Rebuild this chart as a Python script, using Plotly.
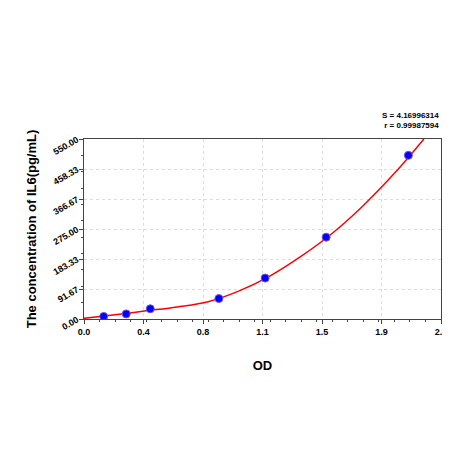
import plotly.graph_objects as go

# standards (OD vs concentration)
od = [0.127, 0.272, 0.427, 0.869, 1.167, 1.56, 2.09]
conc = [7.8, 15.6, 31.25, 62.5, 125, 250, 500]

# fitted curve
fit_od = [0.0, 0.2, 0.4, 0.6, 0.8, 1.0, 1.2, 1.4, 1.6, 1.8, 2.0, 2.19]
fit_conc = [2, 13, 25, 37, 53, 86, 132, 192, 262, 347, 445, 550]

x_ticks = [0, 2.3/6, 2*2.3/6, 3*2.3/6, 4*2.3/6, 5*2.3/6, 2.3]
x_labels = ["<b>0.0</b>", "<b>0.4</b>", "<b>0.8</b>", "<b>1.1</b>", "<b>1.5</b>", "<b>1.9</b>", "<b>2.3</b>"]
y_ticks = [0, 550/6, 2*550/6, 3*550/6, 4*550/6, 5*550/6, 550]
y_labels = ["<b>0.00</b>", "<b>91.67</b>", "<b>183.33</b>", "<b>275.00</b>",
            "<b>366.67</b>", "<b>458.33</b>", "<b>550.00</b>"]

fig = go.Figure()
fig.add_trace(go.Scatter(x=fit_od, y=fit_conc, mode='lines', line=dict(color='red', width=1.5, shape='spline')))
fig.add_trace(go.Scatter(x=od, y=conc, mode='markers',
                         marker=dict(color='blue', size=8, line=dict(color='#7755cc', width=1))))

axis = dict(showline=True, linecolor='#444', linewidth=1, mirror=True, automargin=False,
            gridcolor='#dddddd', griddash='dot', zeroline=False,
            ticks='outside', ticklen=4, tickcolor='#444',
            minor=dict(ticks='outside', ticklen=2, nticks=5, tickcolor='#444'),
            tickfont=dict(size=9, family='Arial', color='black'))

fig.update_xaxes(axis, range=[0, 2.3], tickvals=x_ticks, ticktext=x_labels,
                 title=dict(text='<b>OD</b>', standoff=25, font=dict(size=13, family='Arial', color='black')))
fig.update_yaxes(axis, range=[0, 550], tickvals=y_ticks, ticktext=y_labels, tickangle=-30,
                 title=dict(text='<b>The concentration of IL6(pg/mL)</b>', standoff=12,
                            font=dict(size=13, family='Arial', color='black')))

fig.add_annotation(text='<b>S = 4.16996314<br>r = 0.99987594</b>', xref='paper', yref='paper',
                   x=1, y=1.04, xanchor='right', yanchor='bottom', showarrow=False, align='right',
                   font=dict(size=8, family='Arial', color='black'))

fig.update_layout(width=450, height=450, showlegend=False, plot_bgcolor='white', paper_bgcolor='white',
                  margin=dict(l=76, r=17, t=131, b=139))
fig.write_html("out.html")
